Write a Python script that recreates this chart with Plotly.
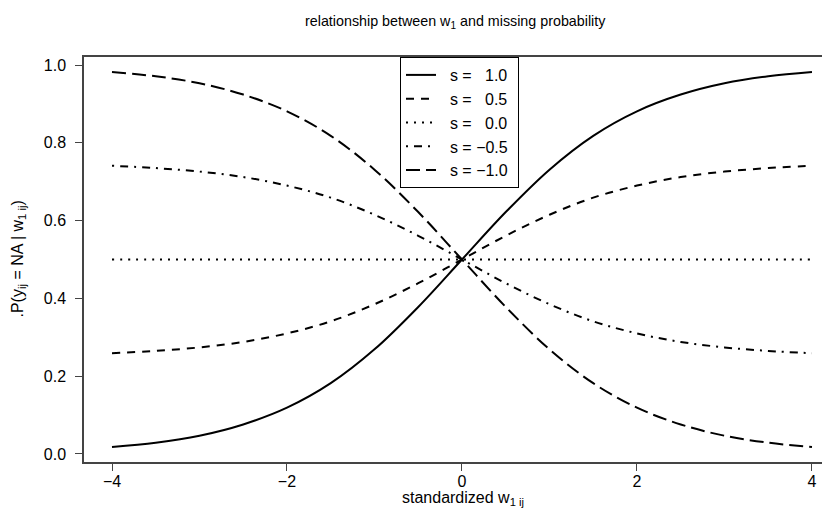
import plotly.graph_objects as go

x_vals = [-4, -3.5, -3, -2.5, -2, -1.5, -1, -0.5, 0, 0.5, 1, 1.5, 2, 2.5, 3, 3.5, 4]

p_s_pos10 = [0.018, 0.029, 0.047, 0.076, 0.119, 0.182, 0.269, 0.378, 0.500,
             0.622, 0.731, 0.818, 0.881, 0.924, 0.953, 0.971, 0.982]
p_s_pos05 = [0.259, 0.265, 0.274, 0.288, 0.310, 0.341, 0.385, 0.439, 0.500,
             0.561, 0.615, 0.659, 0.690, 0.712, 0.726, 0.735, 0.741]
p_s_zero = [0.500, 0.500, 0.500, 0.500, 0.500, 0.500, 0.500, 0.500, 0.500,
            0.500, 0.500, 0.500, 0.500, 0.500, 0.500, 0.500, 0.500]
p_s_neg05 = [0.741, 0.735, 0.726, 0.712, 0.690, 0.659, 0.615, 0.561, 0.500,
             0.439, 0.385, 0.341, 0.310, 0.288, 0.274, 0.265, 0.259]
p_s_neg10 = [0.982, 0.971, 0.953, 0.924, 0.881, 0.818, 0.731, 0.622, 0.500,
             0.378, 0.269, 0.182, 0.119, 0.076, 0.047, 0.029, 0.018]

legend_labels = ["s =\u00a0\u00a0\u00a01.0", "s =\u00a0\u00a0\u00a00.5", "s =\u00a0\u00a0\u00a00.0",
                 "s = \u22120.5", "s = \u22121.0"]
x_ticks = [-4, -2, 0, 2, 4]
y_ticks = [0, 0.2, 0.4, 0.6, 0.8, 1.0]
y_tick_text = ["0.0", "0.2", "0.4", "0.6", "0.8", "1.0"]

series = [p_s_pos10, p_s_pos05, p_s_zero, p_s_neg05, p_s_neg10]
dashes = ["solid", "8px,7px", "2px,6px", "2px,6px,8px,6px", "14px,6px"]

FONT = "Liberation Sans, Arial, sans-serif"
# the page body adds an 8px offset; figure sized so page fits 830x525 window
OFF = 8
W, H = 830 - OFF, 525 - OFF
L, T, B = 84 - OFF, 57 - OFF, 525 - 462
PL = 84
PW = W - L  # plot area on screen: x 84..830, y 57..462

fig = go.Figure()
for ys, lab, d in zip(series, legend_labels, dashes):
    fig.add_trace(go.Scatter(
        x=x_vals, y=ys, mode="lines", name="\u00a0\u00a0" + lab + "\u00a0",
        line=dict(color="black", width=2, dash=d, shape="spline", smoothing=1.0),
    ))

fig.update_layout(
    width=W, height=H,
    margin=dict(l=L, r=0, t=T, b=B, autoexpand=False),
    paper_bgcolor="white", plot_bgcolor="white",
    font=dict(family=FONT, size=16, color="black"),
    showlegend=True,
    legend=dict(x=(400 - PL) / PW, y=1, xanchor="left", yanchor="top",
                bordercolor="black", borderwidth=1, bgcolor="white",
                itemwidth=30, font=dict(size=16, family=FONT)),
    xaxis=dict(range=[-4.32, 4.206], tickvals=x_ticks,
               showgrid=False, zeroline=False, showline=True, mirror=True,
               linecolor="#444", linewidth=1.5, ticks="outside", ticklen=7,
               tickcolor="#444", tickfont=dict(size=16), automargin=False,
               ticklabelstandoff=-3),
    yaxis=dict(range=[-0.0206, 1.0206], tickvals=y_ticks, ticktext=y_tick_text,
               showgrid=False, zeroline=False, showline=True, mirror=False,
               linecolor="#444", linewidth=1.5, ticks="outside", ticklen=7,
               tickcolor="#444", tickfont=dict(size=16), automargin=False,
               ticklabelstandoff=6),
    annotations=[
        dict(text="relationship between w<sub>1</sub> and missing probability",
             xref="paper", yref="paper", x=(455 - PL) / PW, y=1, yshift=57 - 22,
             xanchor="center", yanchor="middle", showarrow=False,
             font=dict(size=14.3, family=FONT, color="black")),
        dict(text="standardized w<sub>1 ij</sub>",
             xref="paper", yref="paper", x=(463 - PL) / PW, y=0, yshift=-(498 - 462),
             xanchor="center", yanchor="middle", showarrow=False,
             font=dict(size=16, family=FONT, color="black")),
        dict(text=".P(y<sub>ij</sub> = NA | w<sub>1 ij</sub>)",
             xref="paper", yref="paper", x=0, xshift=18 - PL, y=0.5,
             xanchor="center", yanchor="middle", textangle=-90, showarrow=False,
             font=dict(size=16, family=FONT, color="black")),
    ],
)

fig.write_html("out.html")
